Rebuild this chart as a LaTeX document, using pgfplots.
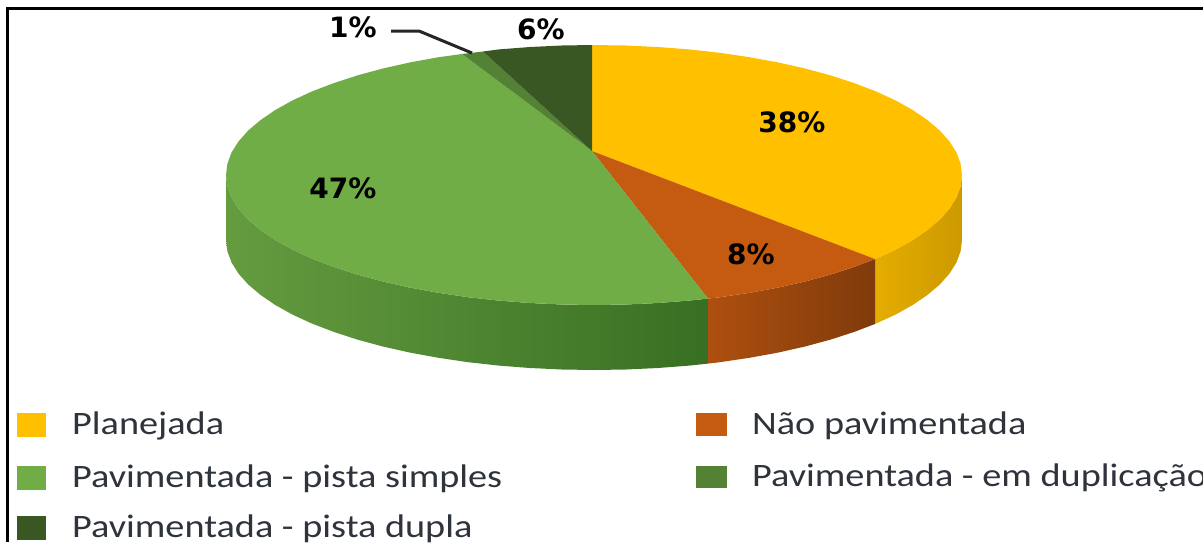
\documentclass[border=0pt]{standalone}
\usepackage{pgfplots}
\pgfplotsset{compat=1.18}
\usepackage{fontspec}
\setmainfont[FakeStretch=1.17]{Carlito}
\newfontfamily\lab{DejaVu Sans}
\definecolor{cY}{HTML}{FFC000}
\definecolor{cO}{HTML}{C55A11}
\definecolor{cG}{HTML}{70AD47}
\definecolor{cM}{HTML}{548235}
\definecolor{cD}{HTML}{385723}
\definecolor{txt}{HTML}{2F333C}
\newcommand{\pct}[2]{\node[font=\fontsize{28}{30}\selectfont\lab\bfseries,text=black] at (axis cs:#1) {#2};}
\newcommand{\leg}[2]{\node[anchor=base west,inner sep=0pt,font=\fontsize{32.7}{34}\selectfont,text=txt] at (axis cs:#1) {#2};}
\begin{document}
\begin{tikzpicture}
\clip (0,0) rectangle (1203pt,542pt);
\begin{axis}[at={(0,0)},anchor=south west,scale only axis,width=1203pt,height=542pt,
  xmin=0,xmax=1203,ymin=0,ymax=542,y dir=reverse,hide axis,clip=false]
% frame
\addplot[black,line width=3pt] coordinates {(7,542) (7,8) (1203,8)};
% walls
\addplot[draw=none,left color=cY!90!black,right color=cY!80!black] coordinates {
(962,175)(960.6,186.3)(956.4,197.6)(949.5,208.6)(939.8,219.5)(927.5,229.9)(912.7,240)(895.5,249.6)(875,259)
(875,324)(895.5,314.6)(912.7,305)(927.5,294.9)(939.8,284.5)(949.5,273.6)(956.4,262.6)(960.6,251.3)(962,240)} -- cycle;
\addplot[draw=none,left color=cO!88!black,right color=cO!65!black] coordinates {
(875,259)(854.2,266.9)(830.6,274.6)(805.1,281.5)(778,287.6)(749.5,292.8)(719.9,297.2)(708,298.6)
(708,363.6)(719.9,362.2)(749.5,357.8)(778,352.6)(805.1,346.5)(830.6,339.6)(854.2,331.9)(875,324)} -- cycle;
\addplot[draw=none,left color=cG!90!black,middle color=cG!78!black,right color=cG!55!black!90!green] coordinates {
(708,298.6)(689.2,300.6)(657.9,303)(626.1,304.5)(594,305)(561.9,304.5)(530.1,303)(498.8,300.6)(468.1,297.2)(438.5,292.8)(410,287.6)(382.9,281.5)(357.4,274.6)(333.8,266.9)(312.1,258.6)(292.5,249.6)(275.3,240)(260.5,229.9)(248.2,219.5)(238.5,208.6)(231.6,197.6)(227.4,186.3)(226,175)
(226,240)(227.4,251.3)(231.6,262.6)(238.5,273.6)(248.2,284.5)(260.5,294.9)(275.3,305)(292.5,314.6)(312.1,323.6)(333.8,331.9)(357.4,339.6)(382.9,346.5)(410,352.6)(438.5,357.8)(468.1,362.2)(498.8,365.6)(530.1,368)(561.9,369.5)(594,370)(626.1,369.5)(657.9,368)(689.2,365.6)(708,363.6)} -- cycle;
% top
\addplot[fill=cY,draw=none] coordinates {
(592,151)(592,45)(626.1,45.5)(657.9,47)(689.2,49.4)(719.9,52.8)(749.5,57.2)(778,62.4)(805.1,68.5)(830.6,75.4)(854.2,83.1)(875.9,91.4)(895.5,100.4)(912.7,110)(927.5,120.1)(939.8,130.5)(949.5,141.4)(956.4,152.4)(960.6,163.7)(962,175)(960.6,186.3)(956.4,197.6)(949.5,208.6)(939.8,219.5)(927.5,229.9)(912.7,240)(895.5,249.6)(875,259)} -- cycle;
\addplot[fill=cO,draw=none] coordinates {
(592,151)(875,259)(854.2,266.9)(830.6,274.6)(805.1,281.5)(778,287.6)(749.5,292.8)(719.9,297.2)(708,298.6)} -- cycle;
\addplot[fill=cG,draw=none] coordinates {
(592,151)(708,298.6)(689.2,300.6)(657.9,303)(626.1,304.5)(594,305)(561.9,304.5)(530.1,303)(498.8,300.6)(468.1,297.2)(438.5,292.8)(410,287.6)(382.9,281.5)(357.4,274.6)(333.8,266.9)(312.1,258.6)(292.5,249.6)(275.3,240)(260.5,229.9)(248.2,219.5)(238.5,208.6)(231.6,197.6)(227.4,186.3)(226,175)(227.4,163.7)(231.6,152.4)(238.5,141.4)(248.2,130.5)(260.5,120.1)(275.3,110)(292.5,100.4)(312.1,91.4)(333.8,83.1)(357.4,75.4)(382.9,68.5)(410,62.4)(438.5,57.2)(462,54)} -- cycle;
\addplot[fill=cM,draw=none] coordinates {(592,151)(462,54)(483,51.5)} -- cycle;
\addplot[fill=cD,draw=none] coordinates {(592,151)(483,51.5)(498.8,49.4)(530.1,47)(561.9,45.5)(592,45)} -- cycle;
% leader
\addplot[black!85,line width=3pt] coordinates {(391,31)(419,31)(472,53)};
% legend swatches
\addplot[fill=cY,draw=none] coordinates {(17,413)(46,413)(46,437)(17,437)} -- cycle;
\addplot[fill=cG,draw=none] coordinates {(17,466)(46,466)(46,490)(17,490)} -- cycle;
\addplot[fill=cD,draw=none] coordinates {(17,516)(46,516)(46,540)(17,540)} -- cycle;
\addplot[fill=cO,draw=none] coordinates {(696,413)(727,413)(727,436)(696,436)} -- cycle;
\addplot[fill=cM,draw=none] coordinates {(696,466)(727,466)(727,488)(696,488)} -- cycle;
% labels
\pct{792,122}{38\%}
\pct{751,254}{8\%}
\pct{343,188}{47\%}
\pct{353,27}{1\%}
\pct{541,29}{6\%}
\leg{72,434}{Planejada}
\leg{72,487}{Pavimentada - pista simples}
\leg{72,537}{Pavimentada - pista dupla}
\leg{752,434}{Não pavimentada}
\leg{752,486}{Pavimentada - em duplicação}
\end{axis}
\end{tikzpicture}
\end{document}
